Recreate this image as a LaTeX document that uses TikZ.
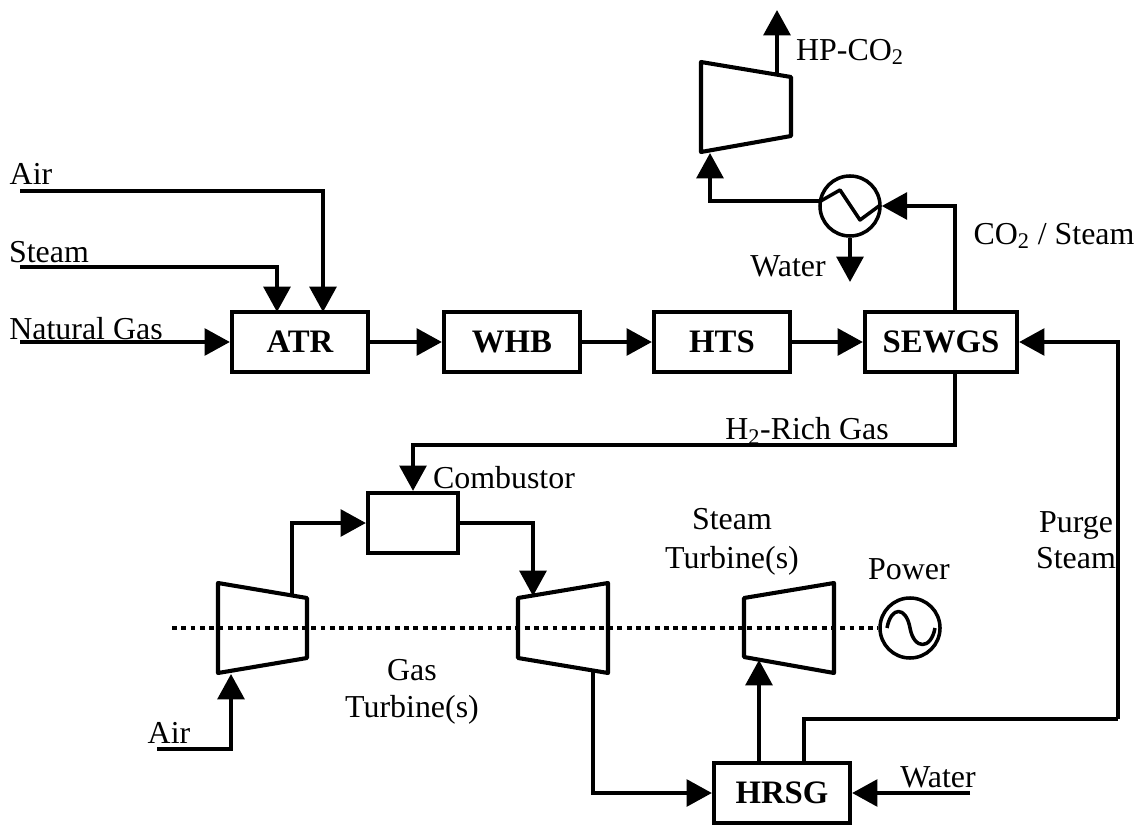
\documentclass[tikz,border=0pt]{standalone}
\usepackage{fontspec}
\setmainfont{Liberation Serif}
\usetikzlibrary{arrows.meta}

\tikzset{
  unit/.style={draw, line width=3pt, minimum width=3.4cm, minimum height=1.5cm, inner sep=0pt, font=\fontsize{23.3}{27}\selectfont\bfseries},
  lbl/.style={inner sep=0pt, font=\fontsize{22.7}{26}\selectfont, align=center},
  flow/.style={line width=2.7pt, line join=miter, -{Triangle[length=18pt,width=19pt]}},
  flowthin/.style={line width=2.4pt},
  machine/.style={line width=2.9pt, line join=round},
}

\begin{document}
\begin{tikzpicture}[x=0.025cm, y=-0.025cm]

    \useasboundingbox (0, 0) rectangle (1142, 826);

    % process units
    \node[unit] (atr) at (300, 342) {ATR};
    \node[unit] (whb) at (512, 342) {WHB};
    \node[unit] (hts) at (722, 342) {HTS};
    \node[unit, minimum width=3.8cm] (sewgs) at (941, 342) {SEWGS};
    \node[unit, minimum width=3.4cm] (hrsg) at (782, 793) {HRSG};
    \node[unit, minimum width=2.25cm] (comb) at (413, 523) {};

    % exchanger and generator
    \node[draw, circle, line width=2.5pt, minimum size=1.5cm, inner sep=0pt] (hx) at (850, 206) {};
    \node[draw, circle, line width=2.5pt, minimum size=1.5cm, inner sep=0pt] (gen) at (910, 628) {};
    \draw [machine, line width=2.5pt] (819, 202) -- (840, 190) -- (860, 220) -- (879, 206);
    \draw [machine, line width=2.5pt] (887, 628) .. controls (891, 606) and (906, 606) .. (910, 628)
        .. controls (914, 650) and (931, 650) .. (935, 628);

    % shaft
    \draw [line width=3pt, dash pattern=on 3.5pt off 3.1pt] (172, 628) -- (gen.west);

    % compressors and turbines
    \draw [machine] (701, 62) -- (791, 77) -- (791, 136) -- (701, 152) -- cycle;
    \draw [machine] (218, 583) -- (307, 598) -- (307, 658) -- (218, 673) -- cycle;
    \draw [machine] (518, 598) -- (608, 583) -- (608, 673) -- (518, 658) -- cycle;
    \draw [machine] (744, 598) -- (834, 583) -- (834, 673) -- (744, 657) -- cycle;

    % free ends
    \coordinate (airtop) at (20, 191);
    \coordinate (steamin) at (20, 267);
    \coordinate (gasin) at (20, 342);
    \coordinate (hpout) at (777, 10);
    \coordinate (hpfoot) at (777, 75);
    \coordinate (hpin) at (710, 153);
    \coordinate (waterout) at (850, 282);
    \coordinate (compout) at (292, 595);
    \coordinate (turbin) at (533, 596);
    \coordinate (turbout) at (593, 672);
    \coordinate (airlow) at (157, 749);
    \coordinate (compin) at (231, 674);
    \coordinate (stin) at (759, 660);
    \coordinate (waterin) at (970, 793);

    \draw [flow] (airtop) -- (323, 191) -- (323, 312);
    \draw [flow] (steamin) -- (277, 267) -- (277, 312);
    \draw [flow] (gasin) to (atr);
    \draw [flow] (atr) to (whb);
    \draw [flow] (whb) to (hts);
    \draw [flow] (hts) to (sewgs);
    \draw [flow] (955, 312) -- (955, 206) -- (hx.east);
    \draw [flow] (819, 201) -- (710, 201) -- (hpin);
    \draw [flow] (hx.south) -- (waterout);
    \draw [flow] (hpfoot) -- (hpout);
    \draw [flow] (955, 372) -- (955, 445) -- (413, 445) -- (comb.north);
    \draw [flow] (1118, 719) -- (1118, 342) -- (sewgs.east);
    \draw [flowthin] (804, 763) -- (804, 719) -- (1118, 719);
    \draw [flow] (compout) -- (292, 523) -- (comb.west);
    \draw [flow] (comb.east) -- (533, 523) -- (turbin);
    \draw [flow] (turbout) -- (593, 793) -- (hrsg.west);
    \draw [flow] (airlow) -- (231, 749) -- (compin);
    \draw [flow] (759, 763) -- (stin);
    \draw [flow] (waterin) -- (hrsg.east);

    % labels
    \node[lbl] (lair) at (31, 174) {Air};
    \node[lbl] (lsteam) at (49, 252) {Steam};
    \node[lbl] (lgas) at (86, 329) {Natural Gas};
    \node[lbl] (lhp) at (850, 52) {HP-CO\textsubscript{2}};
    \node[lbl] (lco) at (1054, 236) {CO\textsubscript{2} / Steam};
    \node[lbl] (lwater) at (788, 266) {Water};
    \node[lbl] (lrich) at (807, 431) {H\textsubscript{2}-Rich Gas};
    \node[lbl] (lcomb) at (504, 478) {Combustor};
    \node[lbl] (lpurge) at (1076, 540) {Purge\\Steam};
    \node[lbl] (lst) at (732, 542) {Steam\\[2pt]Turbine(s)};
    \node[lbl] (lpower) at (909, 569) {Power};
    \node[lbl] (lgt) at (412, 692) {Gas\\Turbine(s)};
    \node[lbl] (lairlow) at (169, 733) {Air};
    \node[lbl] (lwaterin) at (938, 777) {Water};

\end{tikzpicture}
\end{document}
